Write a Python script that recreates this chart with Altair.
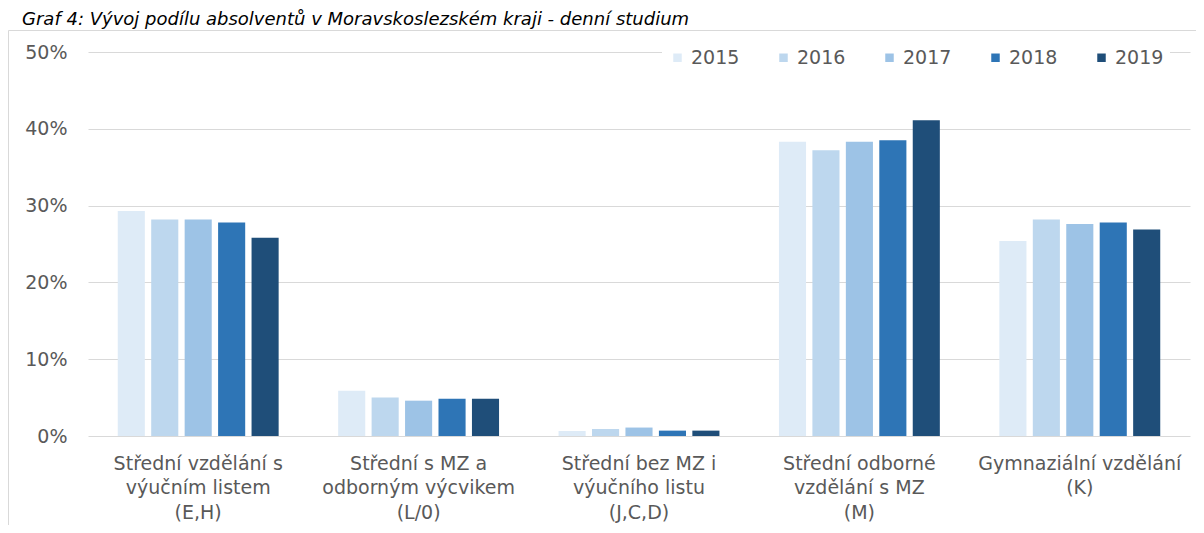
import altair as alt
import pandas as pd

categories = [
    "Střední vzdělání s|výučním listem|(E,H)",
    "Střední s MZ a|odborným výcvikem|(L/0)",
    "Střední bez MZ i|výučního listu|(J,C,D)",
    "Střední odborné|vzdělání s MZ|(M)",
    "Gymnaziální vzdělání|(K)",
]
years = ["2015", "2016", "2017", "2018", "2019"]
v2015 = [0.293, 0.059, 0.0065, 0.383, 0.254]
v2016 = [0.282, 0.050, 0.009, 0.372, 0.282]
v2017 = [0.282, 0.046, 0.011, 0.383, 0.276]
v2018 = [0.278, 0.0485, 0.007, 0.385, 0.278]
v2019 = [0.258, 0.0485, 0.007, 0.411, 0.269]
colors = ["#deebf7", "#bdd7ee", "#9dc3e6", "#2e75b6", "#1f4e79"]
title_text = "Graf 4: Vývoj podílu absolventů v Moravskoslezském kraji - denní studium"

series = [v2015, v2016, v2017, v2018, v2019]
rows = []
for y, vals in zip(years, series):
    for c, v in zip(categories, vals):
        rows.append({"kat": c, "rok": y, "podil": v})
df = pd.DataFrame(rows)

FONT = "DejaVu Sans"
GRAY = "#595959"

frame = alt.Chart(pd.DataFrame({"a": [0]})).mark_rect(
    fill=None, stroke="#d9d9d9", strokeWidth=1
).encode(
    x=alt.value(-79.5), x2=alt.value(1400), y=alt.value(-21.5), y2=alt.value(800)
)

title = alt.Chart(pd.DataFrame({"a": [0]})).mark_text(
    align="left", baseline="alphabetic", font=FONT, fontSize=18,
    fontStyle="italic", color="#000000"
).encode(x=alt.value(-66), y=alt.value(-27), text=alt.value(title_text))

bars = alt.Chart(df).mark_bar().encode(
    x=alt.X("kat:N", sort=categories, title=None,
            scale=alt.Scale(paddingInner=0.27, paddingOuter=0.135),
            axis=alt.Axis(labelAngle=0, labelExpr="split(datum.label, '|')",
                          labelBaseline="top", labelLineHeight=24.5,
                          labelPadding=18, labelLimit=400, ticks=False,
                          domain=False, labelFont=FONT, labelFontSize=19,
                          labelColor=GRAY)),
    xOffset=alt.XOffset("rok:N", sort=years,
                        scale=alt.Scale(paddingInner=0.19, paddingOuter=0)),
    y=alt.Y("podil:Q", title=None,
            scale=alt.Scale(domain=[0, 0.5], nice=False),
            axis=alt.Axis(values=[0, 0.1, 0.2, 0.3, 0.4, 0.5], format=".0%",
                          ticks=False, domain=False, grid=True,
                          gridColor="#d9d9d9", gridWidth=1.2,
                          labelPadding=21, labelFont=FONT, labelFontSize=19,
                          labelColor=GRAY)),
    color=alt.Color("rok:N", sort=years,
                    scale=alt.Scale(domain=years, range=colors),
                    legend=alt.Legend(title=None, orient="none", legendX=574,
                                      legendY=-10, direction="horizontal",
                                      columns=5, symbolType="square",
                                      symbolSize=72, symbolStrokeWidth=0,
                                      labelFont=FONT, labelFontSize=19,
                                      labelColor=GRAY, labelOffset=4,
                                      columnPadding=34, fillColor="white",
                                      padding=6)),
)

chart = alt.layer(frame, bars, title).properties(
    width=1102, height=384,
    autosize=alt.AutoSizeParams(type="none"),
    padding={"left": 80, "top": 44, "right": 6, "bottom": 89},
    background="white",
).configure_view(stroke=None)

chart.save("out.html", embed_options={"renderer": "svg", "actions": False})
